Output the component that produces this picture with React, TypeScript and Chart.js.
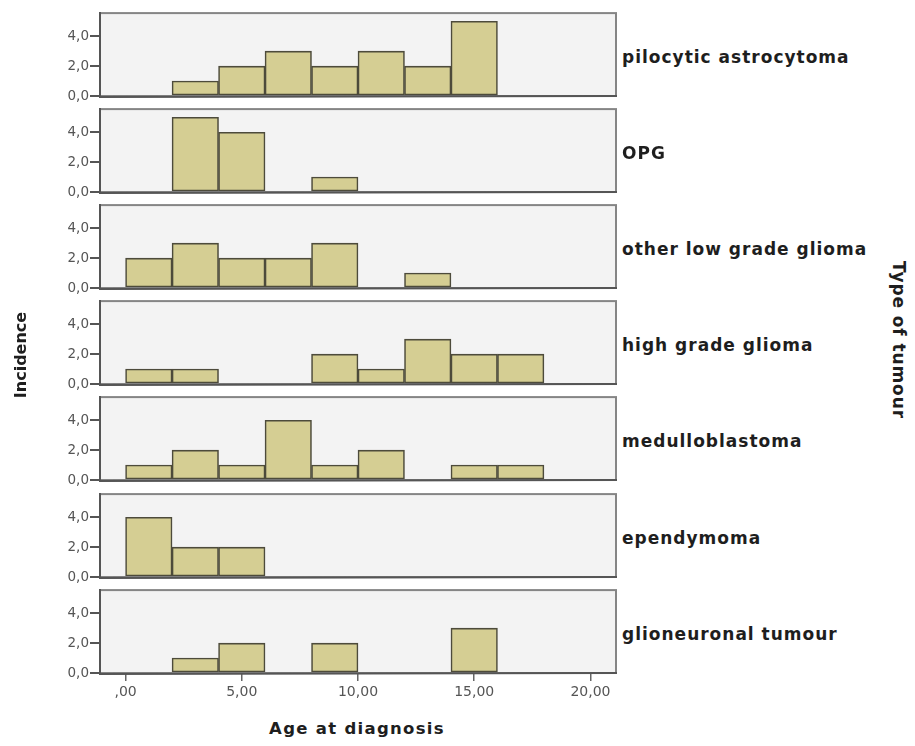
import React, { useEffect, useRef } from "react";
import { Chart, registerables } from "chart.js";

Chart.register(...registerables);

// ---------- data ----------
const tumourTypes = [
  "pilocytic astrocytoma",
  "OPG",
  "other low grade glioma",
  "high grade glioma",
  "medulloblastoma",
  "ependymoma",
  "glioneuronal tumour",
];
const binStarts = [0, 2, 4, 6, 8, 10, 12, 14, 16];
const binWidth = 2;
const pilocyticCounts = [0, 1, 2, 3, 2, 3, 2, 5, 0];
const opgCounts = [0, 5, 4, 0, 1, 0, 0, 0, 0];
const otherLowGradeCounts = [2, 3, 2, 2, 3, 0, 1, 0, 0];
const highGradeCounts = [1, 1, 0, 0, 2, 1, 3, 2, 2];
const medulloCounts = [1, 2, 1, 4, 1, 2, 0, 1, 1];
const ependymomaCounts = [4, 2, 2, 0, 0, 0, 0, 0, 0];
const glioneuronalCounts = [0, 1, 2, 0, 2, 0, 0, 3, 0];
const xTickValues = [0, 5, 10, 15, 20];
const xTickLabels = [",00", "5,00", "10,00", "15,00", "20,00"];
const yTickValues = [0, 2, 4];
const yTickLabels = ["0,0", "2,0", "4,0"];
const xMin = -1.1;
const xMax = 21.1;
const yMax = 5.55;
const xTitle = "Age at diagnosis";
const yTitle = "Incidence";
const rightTitle = "Type of tumour";

const panelCounts = [
  pilocyticCounts,
  opgCounts,
  otherLowGradeCounts,
  highGradeCounts,
  medulloCounts,
  ependymomaCounts,
  glioneuronalCounts,
];

// ---------- layout (styles only) ----------
const FONT = "'DejaVu Sans', sans-serif";
const FIRST_BASE = 95.5;
const PITCH = 96.2;
const PANEL_H = 88;
const CANVAS_LEFT = 30;
const CANVAS_W = 590;
const Y_AXIS_W = 70;
const PAD_TOP = 4;

const panelPlugin = {
  id: "panelBox",
  beforeDraw(chart: any) {
    const { ctx, chartArea: a } = chart;
    ctx.save();
    ctx.fillStyle = "#f3f3f3";
    ctx.fillRect(a.left, a.top, a.right - a.left, a.bottom - a.top);
    ctx.restore();
  },
  afterDatasetsDraw(chart: any) {
    const { ctx, chartArea: a } = chart;
    ctx.save();
    ctx.lineWidth = 2;
    ctx.strokeStyle = "#858585";
    ctx.strokeRect(a.left, a.top, a.right - a.left, a.bottom - a.top);
    ctx.strokeStyle = "#555555";
    ctx.beginPath();
    ctx.moveTo(a.left, a.top - 1);
    ctx.lineTo(a.left, a.bottom + 1);
    ctx.lineTo(a.right + 1, a.bottom);
    ctx.stroke();
    ctx.restore();
  },
};

function Panel({ index, counts, showX }: { index: number; counts: number[]; showX: boolean }) {
  const ref = useRef<HTMLCanvasElement | null>(null);
  const base = FIRST_BASE + PITCH * index;
  const top = Math.round(base - PANEL_H) - PAD_TOP;
  const xAxisH = showX ? 40 : 0;
  const padBottom = showX ? 0 : 10;
  const height = PAD_TOP + PANEL_H + xAxisH + padBottom;

  useEffect(() => {
    if (!ref.current) return;
    const chart = new Chart(ref.current, {
      type: "bar",
      data: {
        datasets: [
          {
            data: binStarts.map((s, i) => ({ x: s + binWidth / 2, y: counts[i] > 0 ? counts[i] : null })) as any,
            backgroundColor: "#d5ce93",
            borderColor: "#4d4b3b",
            borderWidth: 1.6,
            borderSkipped: false,
            barPercentage: 1,
            categoryPercentage: 1,
          },
        ],
      },
      options: {
        animation: false,
        responsive: false,
        events: [],
        layout: { padding: { top: PAD_TOP, right: 4, left: 0, bottom: padBottom } },
        plugins: { legend: { display: false }, tooltip: { enabled: false } },
        scales: {
          x: {
            type: "linear",
            min: xMin,
            max: xMax,
            offset: false,
            display: showX,
            afterBuildTicks: (s: any) => {
              s.ticks = xTickValues.map((v) => ({ value: v }));
            },
            ticks: {
              autoSkip: false,
              maxRotation: 0,
              padding: 3,
              color: "#555",
              font: { family: FONT, size: 14 },
              callback: (_v: any, i: number) => xTickLabels[i],
            },
            grid: { drawOnChartArea: false, offset: false, drawTicks: true, tickLength: 8, color: "#666", lineWidth: 1.5 },
            border: { display: false },
            afterFit: (s: any) => {
              s.height = xAxisH;
            },
          },
          y: {
            min: 0,
            max: yMax,
            afterBuildTicks: (s: any) => {
              s.ticks = yTickValues.map((v) => ({ value: v }));
            },
            ticks: {
              padding: 1,
              color: "#555",
              font: { family: FONT, size: 13.5 },
              callback: (_v: any, i: number) => yTickLabels[i],
            },
            grid: { drawOnChartArea: false, drawTicks: true, tickLength: 10, color: "#555", lineWidth: 2 },
            border: { display: false },
            afterFit: (s: any) => {
              s.width = Y_AXIS_W;
            },
          },
        },
      } as any,
      plugins: [panelPlugin],
    });
    return () => chart.destroy();
  }, []);

  return (
    <canvas
      ref={ref}
      width={CANVAS_W}
      height={height}
      style={{ position: "absolute", left: CANVAS_LEFT, top, width: CANVAS_W, height }}
    />
  );
}

export default function App() {
  const labelStyle: React.CSSProperties = {
    position: "absolute",
    fontFamily: FONT,
    fontWeight: "bold",
    color: "#1e1e1e",
    whiteSpace: "nowrap",
  };
  return (
    <div style={{ position: "absolute", left: 0, top: 0, width: 915, height: 746, background: "#ffffff", overflow: "hidden" }}>
      {panelCounts.map((c, i) => (
        <Panel key={i} index={i} counts={c} showX={i === panelCounts.length - 1} />
      ))}
      {tumourTypes.map((t, i) => {
        const center = FIRST_BASE + PITCH * i - PANEL_H / 2 + 5;
        return (
          <div key={t} style={{ ...labelStyle, left: 622, top: center, transform: "translateY(-50%)", fontSize: 17, letterSpacing: 1 }}>
            {t}
          </div>
        );
      })}
      <div style={{ ...labelStyle, left: 357, top: 728, transform: "translate(-50%, -50%)", fontSize: 16.5, letterSpacing: 1.3 }}>
        {xTitle}
      </div>
      <div style={{ ...labelStyle, left: 20, top: 355, transform: "translate(-50%, -50%) rotate(-90deg)", fontSize: 16 }}>
        {yTitle}
      </div>
      <div style={{ ...labelStyle, left: 899, top: 340, transform: "translate(-50%, -50%) rotate(90deg)", fontSize: 17, letterSpacing: 0.9 }}>
        {rightTitle}
      </div>
    </div>
  );
}
